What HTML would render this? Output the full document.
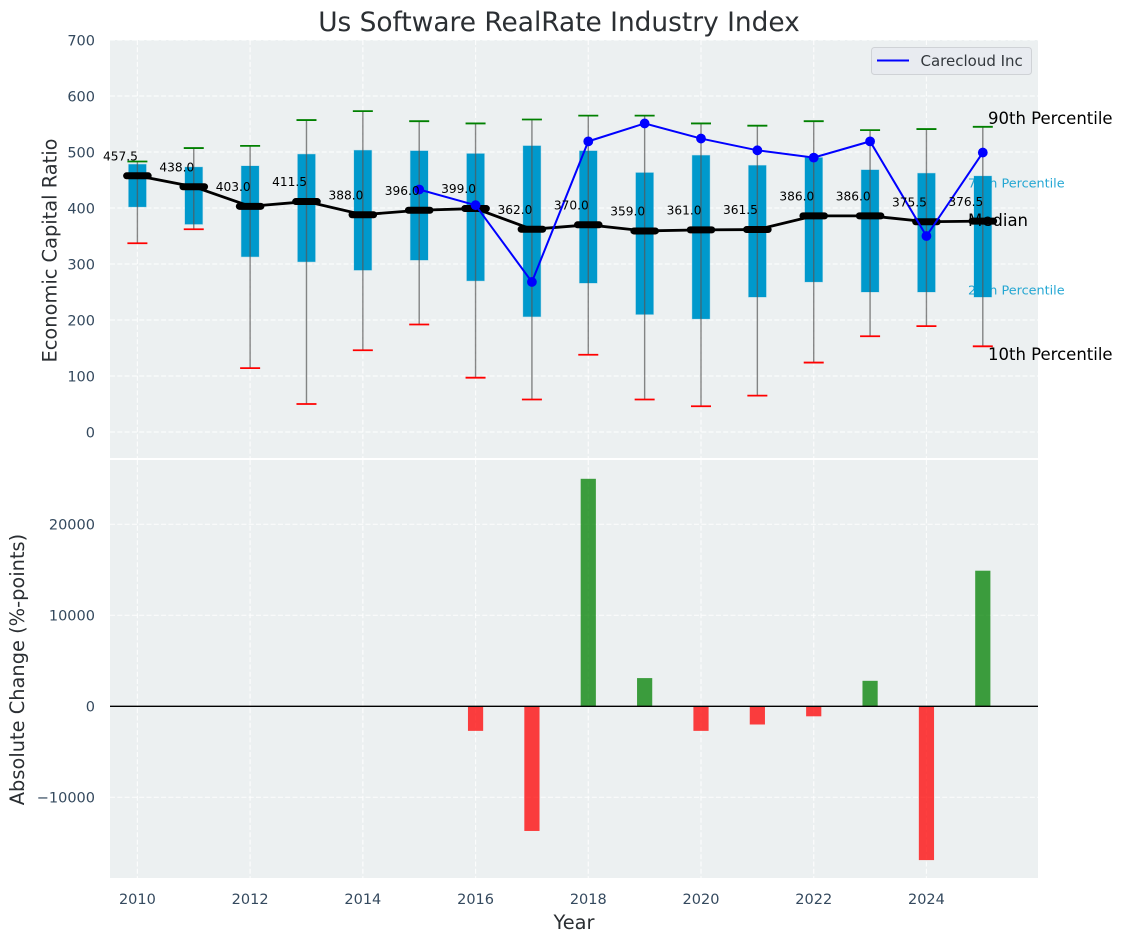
<!DOCTYPE html>
<html lang="en">
<head>
<meta charset="utf-8">
<title>Us Software RealRate Industry Index</title>
<style>
  html, body { margin: 0; padding: 0; background: #fff; }
  body { width: 1123px; height: 942px; overflow: hidden; }
  svg { display: block; font-family: "DejaVu Sans", "Liberation Sans", sans-serif; }
  .tick { fill: #34495e; font-size: 14.5px; }
  .axis-title { fill: #2b2f33; font-size: 19.4px; }
</style>
</head>
<body>
<svg id="chart" width="1123" height="942" viewBox="0 0 1123 942" xmlns="http://www.w3.org/2000/svg">
  <text x="559" y="31" text-anchor="middle" font-size="26.4" fill="#2b2f33">Us Software RealRate Industry Index</text>
  <rect x="110" y="40" width="928" height="418" fill="#ecf0f1"/>
  <rect x="110" y="460" width="928" height="418" fill="#ecf0f1"/>
  <g id="grid"></g>
  <g id="under">
    <text x="968" y="187.5" font-size="12.8" fill="#0099cc" fill-opacity="0.85">75th Percentile</text>
    <text x="968" y="294.5" font-size="12.8" fill="#0099cc" fill-opacity="0.85">25th Percentile</text>
  </g>
  <g id="boxes"></g>
  <g id="medians"></g>
  <g id="company"></g>
  <g id="medianLabels"></g>
  <g id="bars"></g>
  <line x1="110" x2="1038" y1="706.3" y2="706.3" stroke="#000" stroke-width="1.3"/>
  <g id="ticks"></g>
  <g>
    <text x="988" y="124" font-size="16.5" fill="#000">90th Percentile</text>
    <text x="968" y="226" font-size="16.5" fill="#000">Median</text>
    <text x="988" y="360" font-size="16.5" fill="#000">10th Percentile</text>
  </g>
  <g>
    <rect x="871.5" y="47.5" width="160" height="27" rx="3" fill="#e8ebf0" stroke="#cfd2d6"/>
    <line x1="877" x2="909" y1="60.5" y2="60.5" stroke="#0000ff" stroke-width="2"/>
    <text x="920.5" y="66" font-size="15" fill="#33383d">Carecloud Inc</text>
  </g>
  <text class="axis-title" transform="translate(56.5,250.5) rotate(-90)" text-anchor="middle">Economic Capital Ratio</text>
  <text class="axis-title" transform="translate(24,669.5) rotate(-90)" text-anchor="middle">Absolute Change (%-points)</text>
  <text class="axis-title" x="574" y="929" text-anchor="middle">Year</text>
</svg>
<script>
const years = [2010, 2011, 2012, 2013, 2014, 2015, 2016, 2017, 2018, 2019, 2020, 2021, 2022, 2023, 2024, 2025];
const p90 = [483, 507, 511, 557, 573, 555, 551, 558, 565, 565, 551, 547, 555, 539, 541, 545];
const p75 = [478, 473, 475, 496, 503, 502, 497, 511, 502, 463, 494, 476, 490, 468, 462, 457];
const medianValues = [457.5, 438, 403, 411.5, 388, 396, 399, 362, 370, 359, 361, 361.5, 386, 386, 375.5, 376.5];
const p25 = [402, 371, 313, 304, 289, 307, 270, 206, 266, 210, 202, 241, 268, 250, 250, 241];
const p10 = [337, 362, 114, 50, 146, 192, 97, 58, 138, 58, 46, 65, 124, 171, 189, 153];
const companyValues = [null, null, null, null, null, 433, 405, 268, 519, 551, 524, 503, 490, 519, 350, 499];
const changeValues = [null, null, null, null, null, null, -2700, -13700, 25000, 3100, -2700, -2000, -1100, 2800, -16900, 14900];
const xTickLabels = [2010, 2012, 2014, 2016, 2018, 2020, 2022, 2024];
const topTickLabels = [0, 100, 200, 300, 400, 500, 600, 700];
const bottomTickLabels = [-10000, 0, 10000, 20000];

const NS = 'http://www.w3.org/2000/svg';
const xScale = v => 137.4 + (v - 2010) * 56.36;
const yTop = v => 432 - v * 0.56;
const yBottom = v => 706.3 - v * 0.0091;

function make(parentId, tag, attrs, text) {
  const node = document.createElementNS(NS, tag);
  Object.keys(attrs).forEach(k => node.setAttribute(k, attrs[k]));
  if (text !== undefined) node.textContent = text;
  document.getElementById(parentId).appendChild(node);
  return node;
}

const gridStyle = { stroke: '#ffffff', 'stroke-width': 1.2, 'stroke-dasharray': '5 2.3', 'stroke-opacity': 0.8 };

xTickLabels.forEach(t => {
  const a = make('grid', 'line', Object.assign({ x1: xScale(t), x2: xScale(t), y1: 40, y2: 458 }, gridStyle));
  
  
  const b = make('grid', 'line', Object.assign({ x1: xScale(t), x2: xScale(t), y1: 460, y2: 878 }, gridStyle));
  
  
  const label = make('ticks', 'text', { class: 'tick', x: xScale(t), y: 904, 'text-anchor': 'middle' }, String(t));
  
  
});

topTickLabels.forEach(t => {
  const line = make('grid', 'line', Object.assign({ x1: 110, x2: 1038, y1: yTop(t), y2: yTop(t) }, gridStyle));
  
  
  const label = make('ticks', 'text', { class: 'tick', x: 95, y: yTop(t) + 5.3, 'text-anchor': 'end' }, String(t));
  
  
});

bottomTickLabels.forEach(t => {
  const line = make('grid', 'line', Object.assign({ x1: 110, x2: 1038, y1: yBottom(t), y2: yBottom(t) }, gridStyle));
  
  
  const text = t < 0 ? '\u2212' + Math.abs(t) : String(t);
  const label = make('ticks', 'text', { class: 'tick', x: 95, y: yBottom(t) + 5.3, 'text-anchor': 'end' }, text);
  
  
});

years.forEach((year, i) => {
  const cx = xScale(year);
  const box = make('boxes', 'rect', {
    x: cx - 8.8, width: 17.6,
    y: yTop(p75[i]), height: yTop(p25[i]) - yTop(p75[i]),
    fill: '#0099cc', stroke: '#0099cc', 'stroke-opacity': 0.25, 'stroke-width': 1
  });
  
  
  const whisker = make('boxes', 'line', {
    x1: cx, x2: cx, y1: yTop(p90[i]), y2: yTop(p10[i]),
    stroke: '#555', 'stroke-opacity': 0.7, 'stroke-width': 1.4
  });
  
  
  const capHigh = make('boxes', 'line', {
    x1: cx - 10, x2: cx + 10, y1: yTop(p90[i]), y2: yTop(p90[i]),
    stroke: '#008000', 'stroke-width': 1.8
  });
  
  
  const capLow = make('boxes', 'line', {
    x1: cx - 10, x2: cx + 10, y1: yTop(p10[i]), y2: yTop(p10[i]),
    stroke: '#ff0000', 'stroke-width': 1.8
  });
  
  
});

const medianLine = make('medians', 'polyline', {
  points: years.map((y, i) => xScale(y) + ',' + yTop(medianValues[i])).join(' '),
  fill: 'none', stroke: '#000', 'stroke-width': 2.8
});



years.forEach((year, i) => {
  const cx = xScale(year);
  const cy = yTop(medianValues[i]);
  const mark = make('medians', 'line', {
    x1: cx - 10.8, x2: cx + 10.8, y1: cy, y2: cy,
    stroke: '#000', 'stroke-width': 7, 'stroke-linecap': 'round'
  });
  
  
  const label = make('medianLabels', 'text', {
    x: cx + 0.5, y: cy - 15.4, 'text-anchor': 'end', 'font-size': 12.2, fill: '#000'
  }, medianValues[i].toFixed(1));
  
  
});

const companyPoints = years.map((y, i) => ({ y: y, v: companyValues[i] })).filter(d => d.v !== null);
const companyLine = make('company', 'polyline', {
  points: companyPoints.map(d => xScale(d.y) + ',' + yTop(d.v)).join(' '),
  fill: 'none', stroke: '#0000ff', 'stroke-width': 2
});


companyPoints.forEach(d => {
  const dot = make('company', 'circle', { cx: xScale(d.y), cy: yTop(d.v), r: 4.9, fill: '#0000ff' });
  
  
});

years.forEach((year, i) => {
  const v = changeValues[i];
  if (v === null) return;
  const top = Math.min(yBottom(v), yBottom(0));
  const bar = make('bars', 'rect', {
    x: xScale(year) - 7.6, width: 15.2,
    y: top, height: Math.abs(yBottom(v) - yBottom(0)),
    fill: v >= 0 ? '#008000' : '#ff0000', 'fill-opacity': 0.75
  });
  
  
});
</script>
</body>
</html>
